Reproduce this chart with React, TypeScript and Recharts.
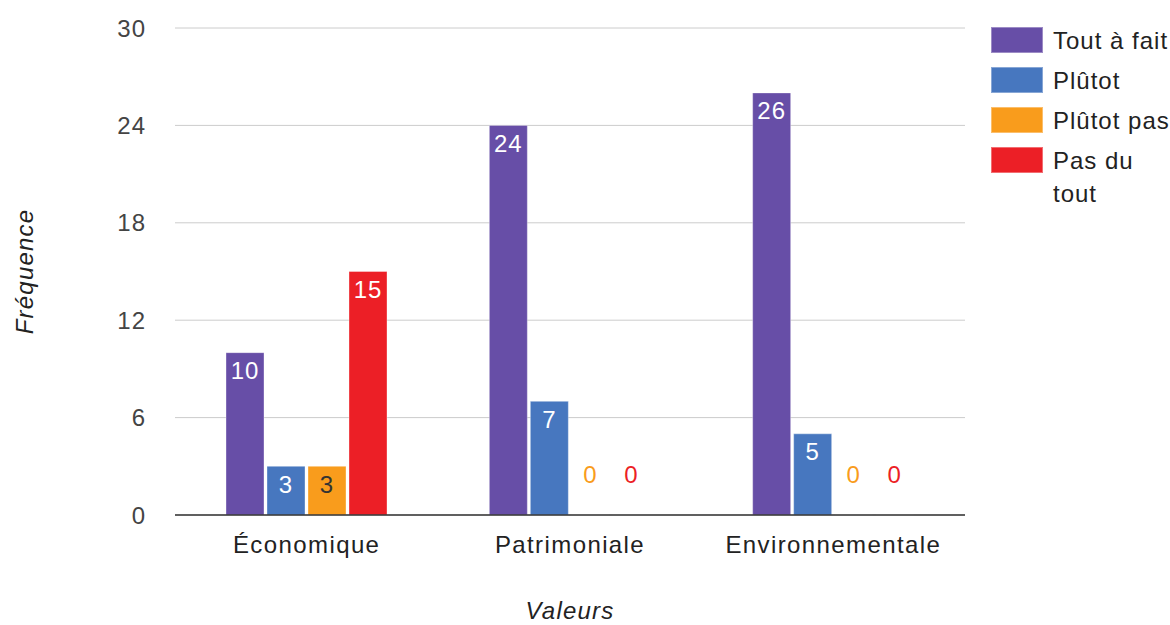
import { BarChart, Bar, XAxis, YAxis, CartesianGrid, LabelList } from 'recharts';

const categories = ['Économique', 'Patrimoniale', 'Environnementale'];
const toutAFait = [10, 24, 26];
const plutot = [3, 7, 5];
const plutotPas = [3, 0, 0];
const pasDuTout = [15, 0, 0];
const yTicks = [0, 6, 12, 18, 24, 30];

const series = [
  { key: 'toutAFait', name: 'Tout à fait', color: '#674ea7', text: '#ffffff' },
  { key: 'plutot', name: 'Plûtot', color: '#4777bf', text: '#ffffff' },
  { key: 'plutotPas', name: 'Plûtot pas', color: '#f99c1c', text: '#333333' },
  { key: 'pasDuTout', name: 'Pas du tout', color: '#ec1f26', text: '#ffffff' },
];

const data = categories.map((c, i) => ({
  category: c,
  toutAFait: toutAFait[i],
  plutot: plutot[i],
  plutotPas: plutotPas[i],
  pasDuTout: pasDuTout[i],
}));

const FONT = '"Liberation Sans", Arial, sans-serif';

const XTick = (props: any) => {
  const { x, y, payload } = props;
  return (
    <text x={x} y={y + 21} textAnchor="middle" dominantBaseline="central" fontSize={24}
      fontFamily={FONT} fill="#222" letterSpacing={1.4}>
      {payload.value}
    </text>
  );
};

const YTick = (props: any) => {
  const { x, y, payload } = props;
  return (
    <text x={x} y={y} textAnchor="end" dominantBaseline="central" fontSize={24}
      fontFamily={FONT} fill="#444" letterSpacing={1}>
      {payload.value}
    </text>
  );
};

const makeLabel = (color: string, textColor: string) => (props: any) => {
  const { x, y, width, value } = props;
  const zero = Number(value) === 0;
  return (
    <text x={Number(x) + Number(width) / 2} y={zero ? Number(y) - 40 : Number(y) + 18} textAnchor="middle"
      dominantBaseline="central" fontSize={24} fontFamily={FONT} letterSpacing={1} fill={zero ? color : textColor}>
      {value}
    </text>
  );
};

// legend drawn beside the chart so it does not eat plot width
const LegendBox = () => (
  <div style={{ position: 'absolute', left: 991, top: 23.5, width: 180, fontFamily: FONT, fontSize: 24, color: '#222', letterSpacing: 1 }}>
    {series.map((s) => (
      <div key={s.key} style={{ display: 'flex', alignItems: 'flex-start', marginBottom: 7, lineHeight: '33px' }}>
        <div style={{ width: 52, height: 26, marginTop: 3.5, background: s.color, border: '1px solid rgba(255,255,255,0.35)', boxSizing: 'border-box', flexShrink: 0 }} />
        <div style={{ marginLeft: 10, width: 118 }}>{s.name}</div>
      </div>
    ))}
  </div>
);

// tiny height for zero values so recharts keeps the bar (and its label)
const keepZero = (v: any) => (Number(v) === 0 ? 0.01 : 0);

export default function App() {
  return (
    <div style={{ position: 'absolute', left: 0, top: 0, width: 1170, height: 625, background: '#fff' }}>
      <BarChart width={1170} height={625} data={data} barSize={38} barGap={3}
        margin={{ top: 28, right: 205, left: 0, bottom: 0 }}>
        <CartesianGrid horizontal vertical={false} stroke="#cccccc" />
        <XAxis dataKey="category" height={110} tickLine={false} axisLine={{ stroke: '#333', strokeWidth: 1.5 }}
          tick={<XTick />} interval={0}
          label={{
            content: (p: any) => {
              const vb = p.viewBox;
              return (
                <text x={vb.x + vb.width / 2} y={vb.y + 95} textAnchor="middle" dominantBaseline="central"
                  fontSize={24} fontStyle="italic" fontFamily={FONT} fill="#222" letterSpacing={1.2}>Valeurs</text>
              );
            },
          }} />
        <YAxis width={175} domain={[0, 30]} ticks={yTicks} tickLine={false} axisLine={false}
          tickSize={0} tickMargin={29} tick={<YTick />}
          label={{
            content: (p: any) => {
              const vb = p.viewBox;
              const cy = vb.y + vb.height / 2;
              return (
                <text x={24} y={cy} transform={`rotate(-90 24 ${cy})`} textAnchor="middle" dominantBaseline="central"
                  fontSize={24} fontStyle="italic" fontFamily={FONT} fill="#222" letterSpacing={1.2}>Fréquence</text>
              );
            },
          }} />
        {series.map((s) => (
          <Bar key={s.key} dataKey={s.key} name={s.name} fill={s.color} stroke="rgba(255,255,255,0.35)" strokeWidth={1}
            minPointSize={keepZero} isAnimationActive={false}>
            <LabelList dataKey={s.key} content={makeLabel(s.color, s.text)} />
          </Bar>
        ))}
      </BarChart>
      <LegendBox />
    </div>
  );
}
